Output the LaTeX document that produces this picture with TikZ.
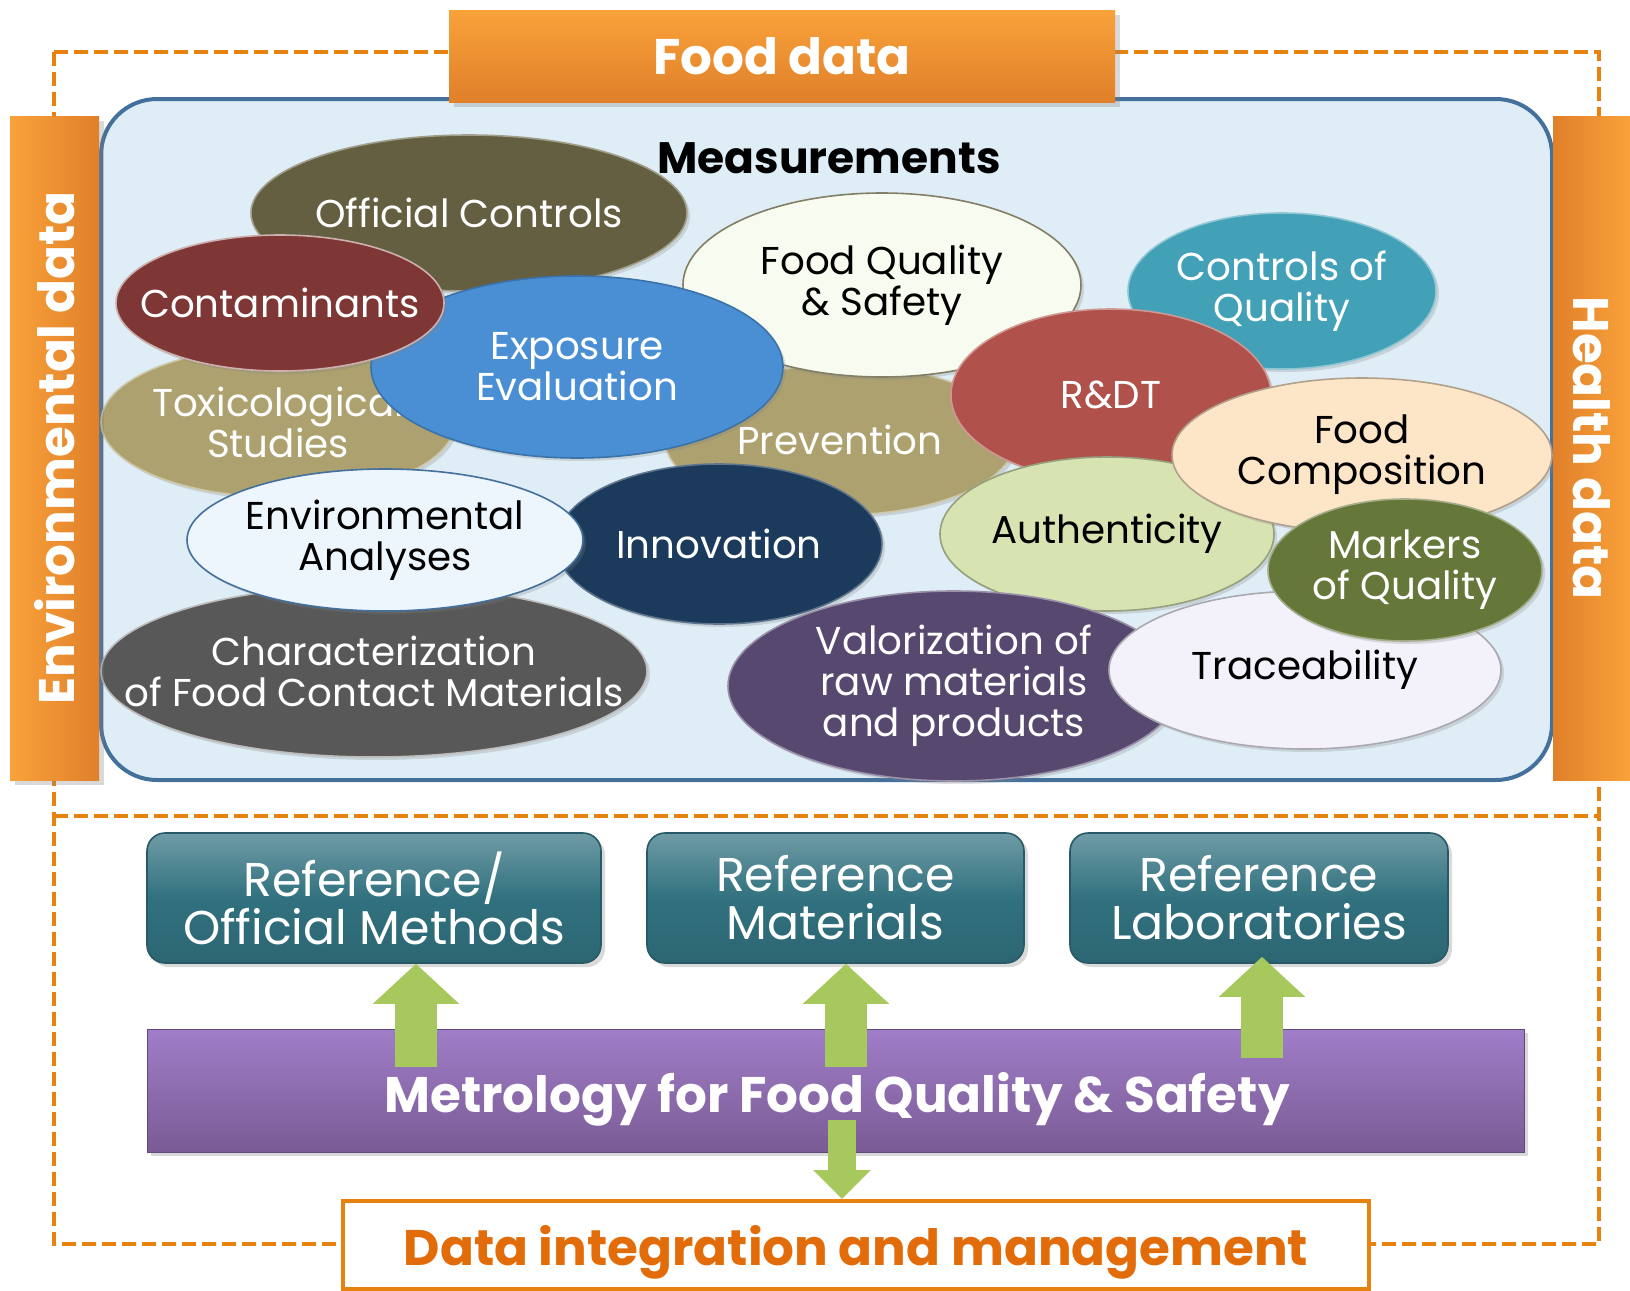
\documentclass[tikz,border=0pt]{standalone}
\usepackage{fontspec}
\setmainfont{Poppins}
\usetikzlibrary{shapes.geometric,arrows.meta,shadows}
\definecolor{dashorange}{HTML}{E8820E}
\definecolor{barlight}{HTML}{F9A23A}
\definecolor{bardark}{HTML}{E0802A}
\definecolor{panelfill}{HTML}{DFEEF6}
\definecolor{panelline}{HTML}{44709C}
\definecolor{cOC}{HTML}{635F40}
\definecolor{cTox}{HTML}{ADA26F}
\definecolor{cFqs}{HTML}{F8FBEF}
\definecolor{cExp}{HTML}{4A8FD4}
\definecolor{cCon}{HTML}{7F3735}
\definecolor{cCoq}{HTML}{42A0B7}
\definecolor{cRdt}{HTML}{B0514B}
\definecolor{cAut}{HTML}{D7E4B2}
\definecolor{cFco}{HTML}{FDE5C8}
\definecolor{cChr}{HTML}{585858}
\definecolor{cInn}{HTML}{1B3A5C}
\definecolor{cEnv}{HTML}{EDF5FD}
\definecolor{cVal}{HTML}{574870}
\definecolor{cTra}{HTML}{F3F1FA}
\definecolor{cMrk}{HTML}{66773A}
\definecolor{teal}{HTML}{31717F}
\definecolor{purplelight}{HTML}{A07DC8}
\definecolor{purpledark}{HTML}{7A5B95}
\definecolor{arrowgreen}{HTML}{A6C85C}
\definecolor{dataorange}{HTML}{E36C0A}

\begin{document}
\begin{tikzpicture}[x=0.5pt,y=-0.5pt,
  dashline/.style={dashorange,line width=2pt,dash pattern=on 7pt off 3pt},
  bubble/.style={ellipse,inner sep=0pt,line width=0.8pt,
    drop shadow={opacity=.25,shadow xshift=1.5pt,shadow yshift=-1.5pt}},
  bubtext/.style={align=center,font=\fontsize{19.4}{20.5}\selectfont},
  title/.style={font=\bfseries\fontsize{25}{28}\selectfont,text depth=0pt},
  refbox/.style={rounded corners=9pt,top color=teal!70!white,bottom color=teal!90!black,
    middle color=teal,draw=teal!80!black,line width=0.8pt,
    minimum height=65pt,text=white,align=center,font=\fontsize{23.7}{24}\selectfont,
    drop shadow={opacity=.3,shadow xshift=2pt,shadow yshift=-2pt}},
  uparrow/.style={arrowgreen,line width=21pt,-{Triangle[length=20pt,width=42pt]}},
  downarrow/.style={arrowgreen,line width=14pt,-{Triangle[length=14.5pt,width=28pt]}}]
\useasboundingbox (0,0) rectangle (1630,1291);

% dashed frame
\draw [dashline] (54,52) rectangle (1599,1244);
\draw [dashline] (54,816) -- (1599,816);

\node [draw=panelline,fill=panelfill,line width=2pt,rounded corners=28pt,
  minimum width=725.5pt,minimum height=340.5pt] (panel) at (826.5,439.5) {};

\foreach \nm/\px/\py/\rx/\ry/\fc/\bc/\tc/\txt in {
  oc/469/213/218/78/cOC/cOC!60!white/white/{Official Controls},
  tox/278/422/177/75/cTox/cTox!60!white/white/{Toxicological\\Studies},
  prev/840/440/175/75/cTox/cTox!60!white/white/{Prevention},
  fqs/882/285/199/92/cFqs/cOC!80!white/black/{Food Quality\\\& Safety},
  exp/577/367/206/91/cExp/cExp!80!black/white/{Exposure\\Evaluation},
  con/280/303/164/68/cCon/cCon!40!white/white/{Contaminants},
  coq/1282/291/154/78/cCoq/cCoq!60!white/white/{Controls of\\Quality},
  rdt/1111/395/160/86/cRdt/cRdt!60!white/white/{R\&DT},
  aut/1107/534/167/77/cAut/cAut!70!black/black/{Authenticity},
  fco/1362/455/190/77/cFco/cFco!70!black/black/{Food\\Composition},
  chr/374/671/273/86/cChr/cChr!40!white/white/{Characterization\\of Food Contact Materials},
  inn/719/544/163/80/cInn/cInn!70!white/white/{Innovation},
  env/385/540/198/71/cEnv/panelline/black/{Environmental\\Analyses},
  val/954/686/226/95/cVal/cVal!60!white/white/{Valorization of\\raw materials\\and products},
  tra/1305/670/196/79/cTra/cTra!70!black/black/{Traceability},
  mrk/1405/570/137/71/cMrk/cMrk!60!white/white/{Markers\\of Quality}}
{
  \node [bubble,fill=\fc,draw=\bc,minimum width=\rx*1pt,minimum height=\ry*1pt,
    label={[bubtext,text=\tc]center:\txt}] (\nm) at (\px,\py) {};
}

\node [font=\bfseries\fontsize{22}{26}\selectfont] (meas) at (829,158) {Measurements};

% side bars and header
\node [left color=barlight,right color=bardark,minimum width=44.5pt,minimum height=332pt,
  drop shadow={opacity=.3},
  label={[title,text=white,rotate=90]center:Environmental data}] (envdata) at (54.5,448) {};
\node [left color=bardark,right color=barlight,minimum width=38.5pt,minimum height=332pt,
  label={[title,text=white,rotate=-90]center:Health data}] (healthdata) at (1591.5,448) {};
\node [top color=barlight,bottom color=bardark,minimum width=333pt,minimum height=46pt,
  title,text=white,drop shadow={opacity=.3}] (fooddata) at (782,56) {Food data};

% references
\node [refbox,minimum width=227pt] (rom) at (374,898) {Reference/\\Official Methods};
\node [refbox,minimum width=188.5pt] (rmat) at (835.5,898) {Reference\\Materials};
\node [refbox,minimum width=189pt] (rlab) at (1259,898) {Reference\\Laboratories};

\node [top color=purplelight,bottom color=purpledark,draw=purpledark!80!black,
  minimum width=688.5pt,minimum height=61.5pt,
  drop shadow={opacity=.3,shadow xshift=2pt,shadow yshift=-2pt}] (metro) at (835.5,1090.5) {};

\coordinate (a1) at (416,1067);
\coordinate (a2) at (846,1067);
\coordinate (a3) at (1262,1058);
\draw [uparrow] (a1) -- (a1 |- rom.south);
\draw [uparrow] (a2) -- (a2 |- rmat.south);
\draw [uparrow] (a3) -- ([yshift=3.5pt]a3 |- rlab.south);

\node [title,text=white] (metrotext) at (837,1092) {Metrology for Food Quality \& Safety};

\node [draw=dashorange,line width=2pt,fill=white,minimum width=513pt,minimum height=44pt,
  title,text=dataorange] (dim) at (856,1245) {Data integration and management};

\coordinate (d1) at (842,1120);
\draw [downarrow] (d1) -- (d1 |- dim.north);
\end{tikzpicture}
\end{document}
